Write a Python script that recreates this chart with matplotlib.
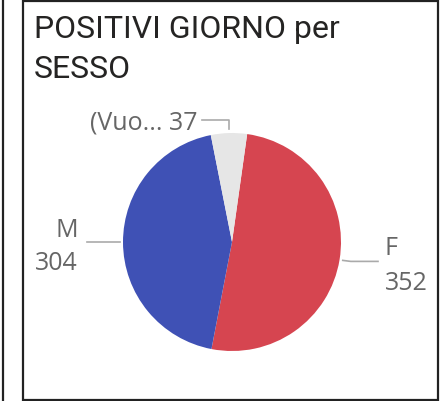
import numpy as np
import matplotlib
matplotlib.use("Agg")
import matplotlib.pyplot as plt
from matplotlib.patches import Rectangle

# dati
sessi = ["F", "M", "(Vuo..."]
positivi = [352, 304, 37]
colori = ["#D64550", "#3F51B5", "#E6E6E6"]

W, H = 445, 402
fig = plt.figure(figsize=(W / 100, H / 100), dpi=100)
ax = fig.add_axes([0, 0, 1, 1])

# cornici
ax.add_patch(Rectangle((23, 1.5), 415, 398.5, fill=False, edgecolor="#222222", linewidth=1.6))
ax.plot([2.5, 2.5], [0, H], color="#222222", linewidth=1.6)

# titolo
ax.text(34, H - 38, "POSITIVI GIORNO per", fontsize=23, family="Roboto",
        color="#252423", va="baseline")
ax.text(34, H - 78, "SESSO", fontsize=23, family="Roboto",
        color="#252423", va="baseline")

cx, cy, r = 232, H - 243, 109
wedges, _ = ax.pie(positivi, colors=colori, startangle=82, counterclock=False,
                   center=(cx, cy), radius=r, frame=True,
                   wedgeprops=dict(linewidth=0))
ax.set_xlim(0, W)
ax.set_ylim(0, H)
ax.axis("off")

def ancora(w, k=1.03):
    a = np.deg2rad((w.theta1 + w.theta2) / 2)
    return cx + k * r * np.cos(a), cy + k * r * np.sin(a)

grigio = "#AAAAAA"
testo = "#666666"
fs = 18
kw = dict(fontsize=fs, family="Open Sans", color=testo, va="baseline")

# F
x0, y0 = ancora(wedges[0])
ax.plot([x0, x0 + 8, 378], [y0, y0 - 1, y0 - 1], color=grigio, linewidth=1.2)
ax.text(385, y0 + 6, sessi[0], ha="left", **kw)
ax.text(385, y0 - 29, str(positivi[0]), ha="left", **kw)

# M
x0, y0 = ancora(wedges[1])
ax.plot([x0, 87], [y0, y0], color=grigio, linewidth=1.2)
ax.text(78, y0 + 6, sessi[1], ha="right", **kw)
ax.text(78, y0 - 27, str(positivi[1]), ha="right", **kw)

# vuoto
x0, y0 = ancora(wedges[2], 1.04)
ax.plot([x0, x0, 202], [y0, H - 121, H - 121], color=grigio, linewidth=1.2)
ax.text(197, H - 129, f"{sessi[2]} {positivi[2]}", ha="right", **kw)

fig.savefig("out.png", dpi=100)
